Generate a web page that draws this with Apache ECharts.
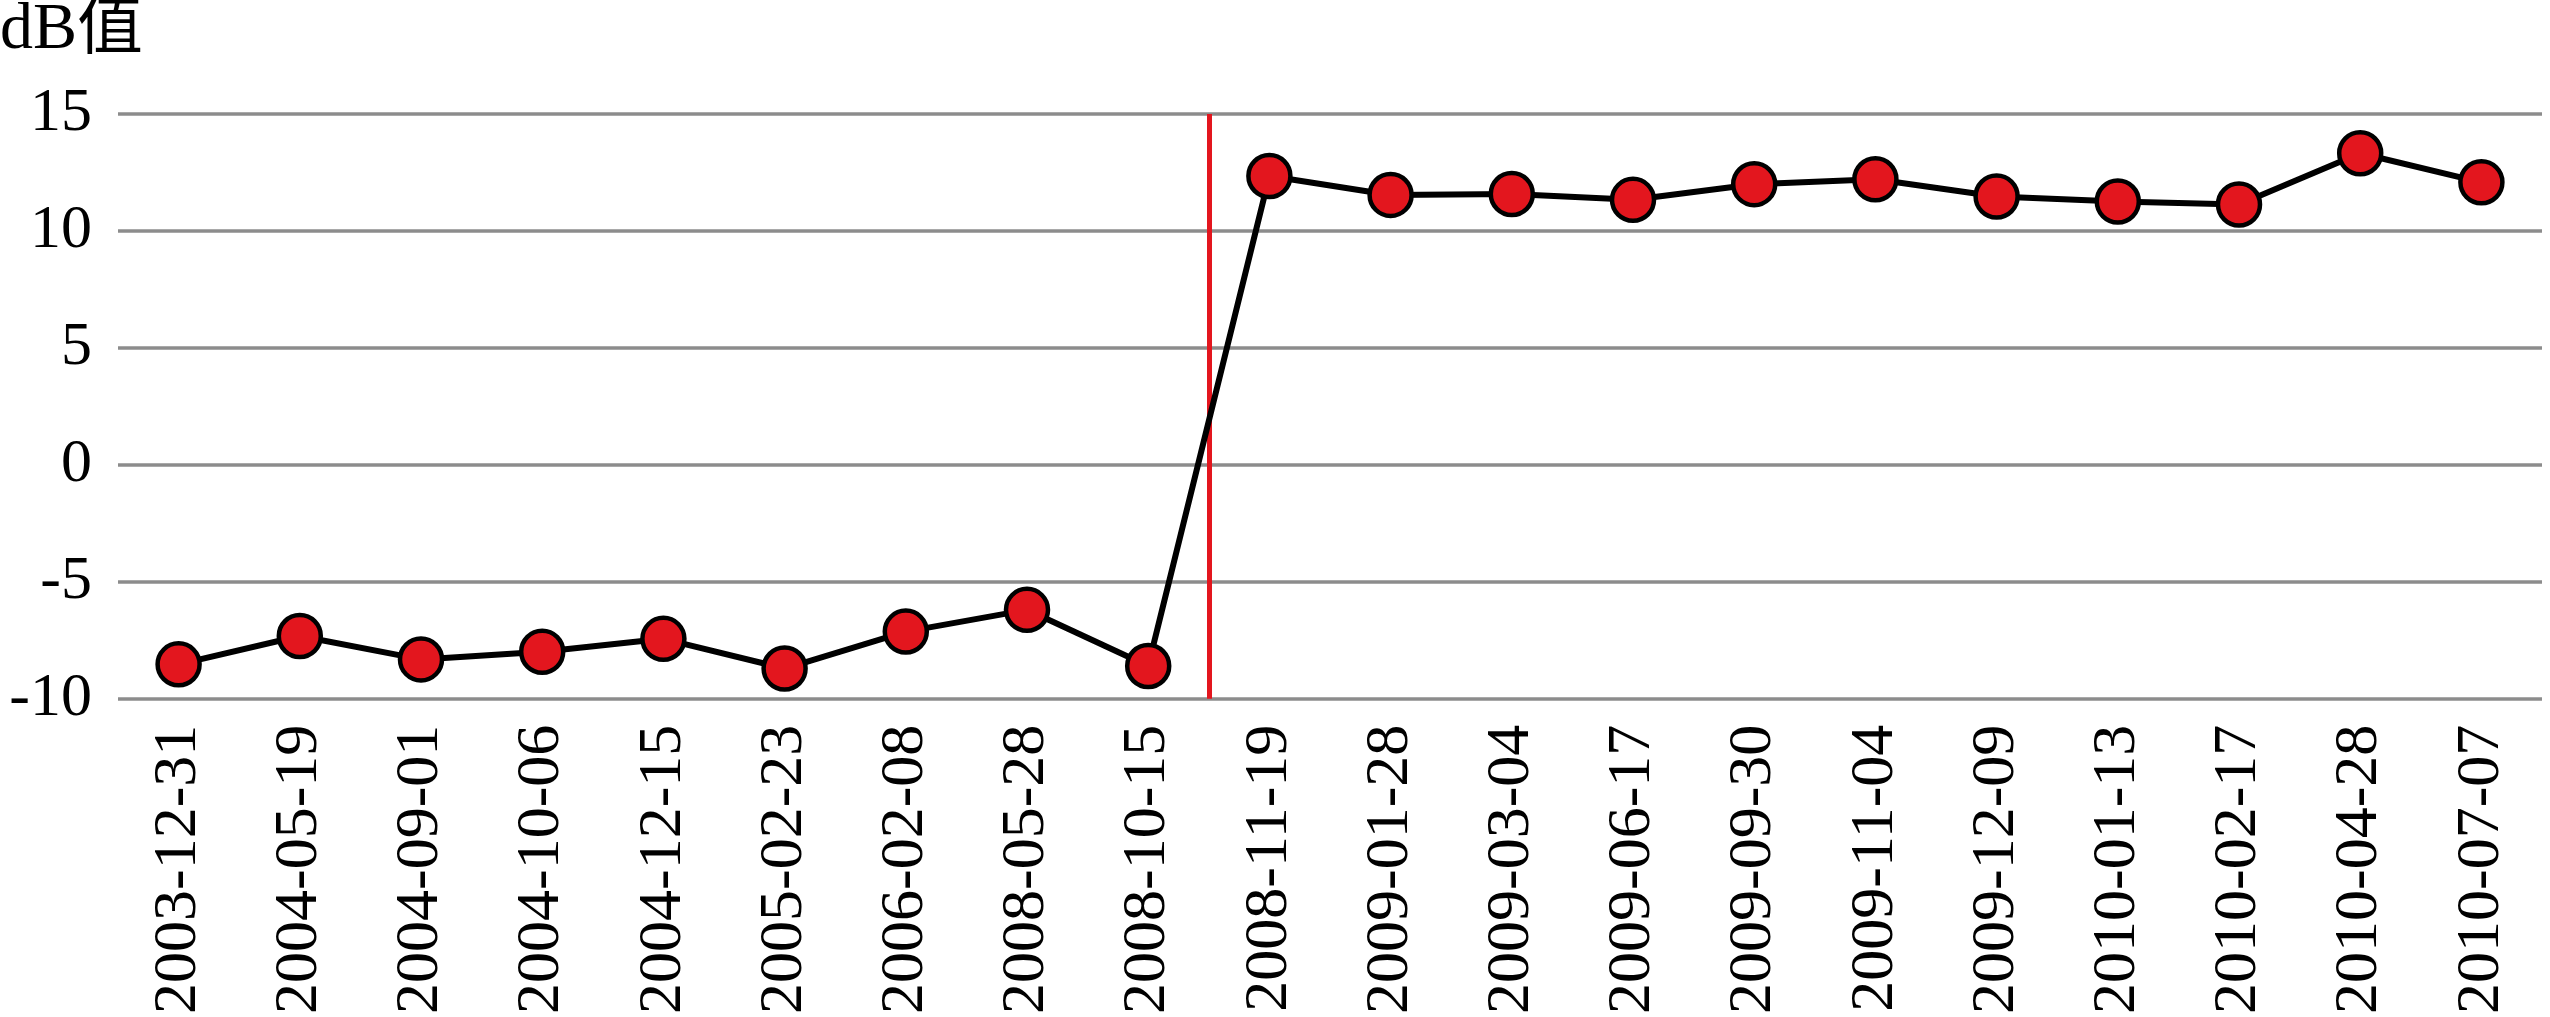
<!DOCTYPE html>
<html>
<head>
<meta charset="utf-8">
<script src="https://cdn.jsdelivr.net/npm/echarts@6/dist/echarts.min.js"></script>
<style>
    html, body { margin: 0; padding: 0; background: #fff; }
    #chart { width: 2550px; height: 1017px; }
</style>
</head>
<body>
<div id="chart"></div>
<script>
    const dates = ['2003-12-31', '2004-05-19', '2004-09-01', '2004-10-06', '2004-12-15',
        '2005-02-23', '2006-02-08', '2008-05-28', '2008-10-15', '2008-11-19',
        '2009-01-28', '2009-03-04', '2009-06-17', '2009-09-30', '2009-11-04',
        '2009-12-09', '2010-01-13', '2010-02-17', '2010-04-28', '2010-07-07']
    const dbValues = [-8.53, -7.32, -8.32, -7.99, -7.44, -8.71, -7.13, -6.2, -8.6, 12.35,
        11.54, 11.58, 11.33, 12.0, 12.21, 11.47, 11.26, 11.13, 13.32, 12.08]
    // red divider sits on the boundary between 2008-10-15 and 2008-11-19
    const dividerAt = 9
    const yTicks = { min: -10, max: 15, interval: 5 }

    const fontFamily = '"Liberation Serif", "Times New Roman", "Noto Sans CJK SC", serif'
    const fontSize = 62

    const chart = echarts.init(document.getElementById('chart'))
    const option = {
        animation: false,
        title: {
            text: 'dB值',
            left: 0,
            top: -2,
            padding: 0,
            textStyle: {
                fontFamily,
                fontSize: 66,
                color: '#000',
                fontWeight: 'normal'
            }
        },
        grid: {
            left: 118,
            right: 8,
            top: 114,
            bottom: 315
        },
        xAxis: [
            {
                type: 'category',
                data: dates,
                boundaryGap: true,
                axisLine: { show: false },
                axisTick: { show: false },
                axisLabel: {
                    rotate: 90,
                    margin: 26,
                    interval: 0,
                    fontFamily,
                    fontSize,
                    color: '#000'
                }
            },
            {
                type: 'value',
                min: 0,
                max: dates.length,
                show: false
            }
        ],
        yAxis: {
            type: 'value',
            min: yTicks.min,
            max: yTicks.max,
            interval: yTicks.interval,
            axisLine: { show: false },
            axisTick: { show: false },
            splitLine: {
                show: true,
                lineStyle: { color: '#8c8c8c', width: 3.5 }
            },
            axisLabel: {
                margin: 26,
                fontFamily,
                fontSize,
                color: '#000'
            }
        },
        series: [
            {
                type: 'line',
                xAxisIndex: 1,
                data: [],
                silent: true,
                markLine: {
                    silent: true,
                    symbol: 'none',
                    label: { show: false },
                    lineStyle: { color: '#e3161e', width: 5, type: 'solid' },
                    data: [{ xAxis: dividerAt }]
                }
            },
            {
                name: 'dB值',
                type: 'line',
                data: dbValues,
                symbol: 'circle',
                symbolSize: 42,
                lineStyle: { color: '#000', width: 6 },
                itemStyle: {
                    color: '#e3161e',
                    borderColor: '#000',
                    borderWidth: 4.5
                },
                z: 5
            }
        ]
    }
    chart.setOption(option)
</script>
</body>
</html>
